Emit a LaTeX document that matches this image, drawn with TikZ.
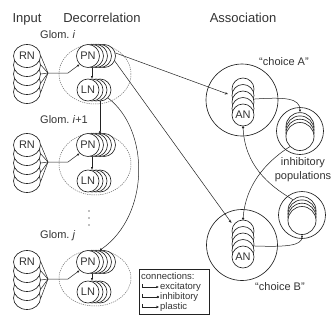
\documentclass[tikz,border=0pt]{standalone}
\usepackage{fontspec}
\setmainfont{Liberation Sans}
\usetikzlibrary{arrows.meta,shapes.geometric}

\definecolor{ink}{HTML}{222222}
\definecolor{txt}{HTML}{333333}

\tikzset{
  title/.style={font=\fontsize{13}{15}\selectfont, text=txt, inner sep=0pt},
  gl/.style={font=\fontsize{11}{13}\selectfont, text=txt, inner sep=0pt, anchor=west},
  cellbase/.style={draw=ink, fill=white, line width=0.65pt, inner sep=0pt,
                   font=\fontsize{11}{13}\selectfont, text=txt},
  rncell/.style={cellbase, ellipse, minimum width=27pt, minimum height=23pt},
  pncell/.style={cellbase, circle, minimum size=23pt},
  lncell/.style={cellbase, circle, minimum size=22pt},
  ancell/.style={cellbase, circle, minimum size=22pt},
  inhcell/.style={cellbase, circle, minimum size=28pt},
  ring/.style={circle, draw=ink, fill=white, line width=0.65pt, inner sep=0pt},
  glomb/.style={draw=gray!85!black, line width=0.5pt, dash pattern=on 1.2pt off 1pt},
  conn/.style={draw=ink, line width=0.5pt},
  exc/.style={conn, -{Latex[length=2.6pt,width=2.3pt]}},
  inh/.style={conn, -{Circle[length=2.3pt]}},
  plast/.style={conn, -{Stealth[length=3pt,width=2.6pt]}},
  lab/.style={font=\fontsize{11}{13}\selectfont, text=txt, inner sep=0pt},
  leg/.style={font=\fontsize{9.5}{10}\selectfont, text=txt, anchor=west, inner sep=0pt},
}

% one glomerulus: #1 id, #2 PN/RN row, #3 LN row, #4 label, #5 label row
\newcommand{\glomerulus}[5]{%
  \draw[glomb] (95,{(#2+#3)/2+1}) ellipse [x radius=36, y radius={(#3-#2)/2+13}];
  \node[gl] (lab#1) at (40,#5) {#4};
  % receptor neurons
  \foreach \k in {4,3,2,1} \node[rncell] (rn#1b\k) at (27,{#2+9*\k}) {};
  \node[rncell] (rn#1) at (27,#2) {RN};
  \coordinate (cv#1) at (48,{#2+17});
  \foreach \k in {1,...,4} \draw[conn] (rn#1b\k.east) -- (cv#1);
  \draw[conn] (rn#1.east) -- (cv#1);
  % projection and local neurons
  \foreach \k in {4,3,2,1} \node[pncell] (pn#1b\k) at ({88+4*\k},#2) {};
  \node[pncell] (pn#1) at (88,#2) {PN};
  \foreach \k in {3,2,1} \node[lncell] (ln#1b\k) at ({88+4*\k},#3) {};
  \node[lncell] (ln#1) at (88,#3) {LN};
  \draw[exc] (cv#1) -- ++(20,0) -- (pn#1.-135);
  \draw[exc] (pn#1b1.south) -- (ln#1b1.north);
}

\begin{document}
\begin{tikzpicture}[x=1pt,y=-1pt]
\fill[white] (0,0) rectangle (333,322);
\useasboundingbox (0,0) rectangle (333,322);

% column headings
\node[title, anchor=base] (tin) at (27,22) {Input};
\node[title, anchor=base] (tdec) at (102,22) {Decorrelation};
\node[title, anchor=base] (tas) at (243,22) {Association};

% glomeruli
\glomerulus{1}{56}{90}{Glom.\ \textit{i}}{35}
\glomerulus{2}{145}{181}{Glom.\ \textit{i}+1}{120}
\glomerulus{3}{262}{292}{Glom.\ \textit{j}}{236}

\foreach \y in {211,218,225} \fill[gray] (89,\y) circle [radius=0.8];

% lateral inhibition between glomeruli
\draw[inh] (ln1b3.south) -- (pn2b3.north);
\draw[inh] (ln1b3.-45) .. controls (150,130) and (150,215) .. (pn3b3.north);

% association populations
\node[ring, minimum size=72pt] (ca) at (242,100) {};
\foreach \k in {4,3,2,1} \node[ancell] (anab\k) at (243,{115-6.5*\k}) {};
\node[ancell] (ana) at (243,115) {AN};
\node[lab] (lca) at (284,62) {``choice A''};

\node[ring, minimum size=71pt] (cb) at (242,245) {};
\foreach \k in {4,3,2,1} \node[ancell] (anbb\k) at (243,{257-6.5*\k}) {};
\node[ancell] (anb) at (243,257) {AN};
\node[lab] (lcb) at (280,287) {``choice B''};

% inhibitory populations
\node[ring, minimum size=47pt] (ia) at (300,131) {};
\foreach \k in {3,2,1} \node[inhcell] (iab\k) at (300,{136.5-3.3*\k}) {};
\node[inhcell] (iaf) at (300,136.5) {};

\node[ring, minimum size=47pt] (ib) at (302,215) {};
\foreach \k in {3,2,1} \node[inhcell] (ibb\k) at (302,{220.5-3.3*\k}) {};
\node[inhcell] (ibf) at (302,220.5) {};

\node[lab] (tinh) at (303,163) {inhibitory};
\node[lab] (tpop) at (303,177) {populations};

% projections to association
\draw[plast, shorten >=4pt] (pn1b4.15) -- (anab3.west);
\draw[plast, shorten >=3pt] (pn1b4.-25) -- (anbb4.150);

% mutual inhibition loop
\draw[exc] (anab2.15) .. controls (285,97) and (300,98) .. (iab3.north);
\draw[inh] (iaf.-135) .. controls (272,158) and (246,180) .. (anbb4.north);
\draw[exc] (anbb2.-10) .. controls (285,247) and (302,246) .. (ibf.south);
\draw[inh] (ibb3.130) .. controls (268,185) and (245,165) .. (ana.south);

% legend
\node[draw=ink, line width=0.5pt, minimum width=70pt, minimum height=45pt,
      inner sep=0pt, anchor=north west] (legbox) at (139,269) {};
\node[leg] (lgt) at (141,276) {connections:};
\node[leg] (lg1) at (160,287) {excitatory};
\node[leg] (lg2) at (160,297) {inhibitory};
\node[leg] (lg3) at (160,307) {plastic};
\draw[exc, shorten >=1pt] (142,284) |- (lg1.west);
\draw[inh, shorten >=1pt] (142,294) |- (lg2.west);
\draw[plast, shorten >=1pt] (142,304) |- (lg3.west);
\end{tikzpicture}
\end{document}
